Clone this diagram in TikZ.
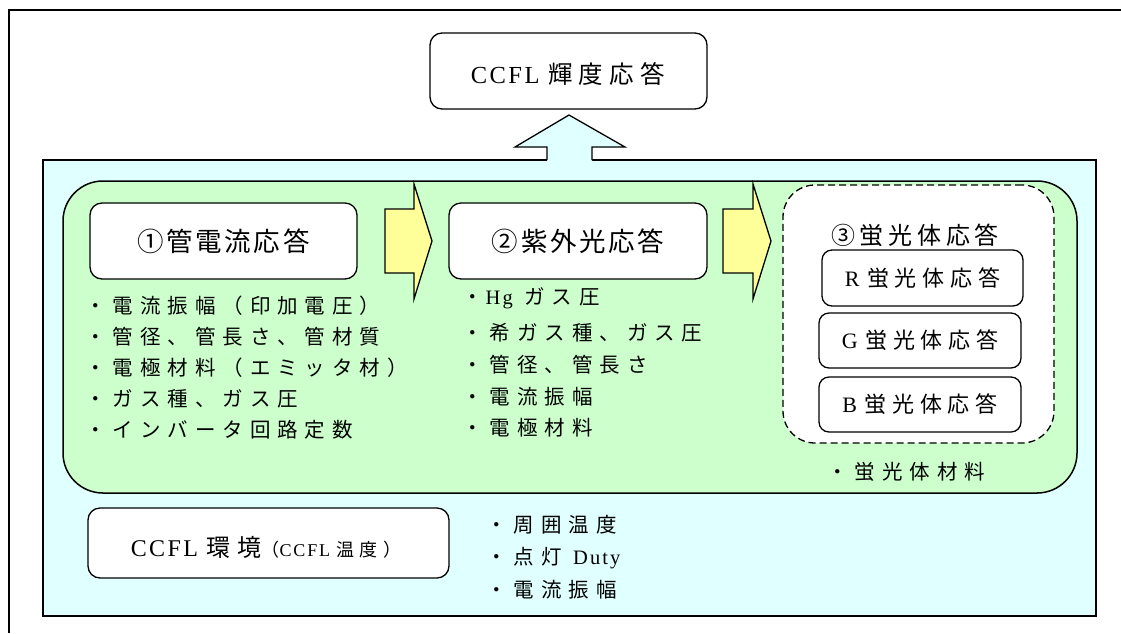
\documentclass[tikz,border=0pt]{standalone}
\usepackage{fontspec}
\setmainfont{Liberation Serif}
\newfontfamily\jpA[LetterSpace=34]{Noto Sans CJK JP}
\newfontfamily\jpB[LetterSpace=26]{Noto Sans CJK JP}
\newfontfamily\jpC[LetterSpace=10]{Noto Sans CJK JP}
\newfontfamily\jpD[LetterSpace=20]{Noto Sans CJK JP}
\newfontfamily\jpE[LetterSpace=30]{Noto Sans CJK JP}
\newfontfamily\lat[LetterSpace=10]{Liberation Serif}
\definecolor{cyanbg}{HTML}{E0FFFF}
\definecolor{greenbg}{HTML}{CCFFCC}
\definecolor{yellowar}{HTML}{FFFF99}
\tikzset{
  box/.style={draw, line width=1.3pt, rounded corners=12pt, fill=white, inner sep=0pt, align=center},
  bul/.style={anchor=west, inner sep=0pt, font=\fontsize{20.5}{24}\selectfont\jpA},
  blockarrow/.style={fill=yellowar, draw, line width=1.3pt, line join=miter},
}
\begin{document}
\begin{tikzpicture}[x=1pt,y=-1pt]
\useasboundingbox (0,0) rectangle (1121,633);
% outer frame (partially visible)
\draw[line width=1.8pt] (1121,10) -- (9,10) -- (9,633);
% cyan area
\draw[fill=cyanbg, line width=1.5pt] (43,160) rectangle (1096,616);
% up arrow
\fill[cyanbg] (547,162) -- (547,147) -- (515,147) -- (569,115) -- (625,147) -- (592,147) -- (592,162) -- cycle;
\draw[line width=1.3pt, line join=miter] (547,160) -- (547,147) -- (515,147) -- (569,115) -- (625,147) -- (592,147) -- (592,160);
% title
\node[box, minimum width=277pt, minimum height=76pt] (title) at (568.5,71) {};
\node[inner sep=0pt, font=\fontsize{24.5}{28}\selectfont] (titlet) at (568,74) {\lat CCFL\ \jpB 輝度応答};
% green area
\draw[fill=greenbg, line width=1.5pt, rounded corners=40pt] (63,181) rectangle (1077,493);
% step boxes
\node[box, minimum width=267pt, minimum height=76pt, font=\fontsize{26.5}{30}\selectfont\jpC] (s1) at (223.5,241) {①管電流応答};
\node[box, minimum width=258pt, minimum height=76pt, font=\fontsize{26.5}{30}\selectfont\jpC] (s2) at (578,241) {②紫外光応答};
% dashed phosphor group
\node[draw, dashed, dash pattern=on 7pt off 4pt, line width=1.3pt, fill=white, rounded corners=32pt,
  minimum width=271pt, minimum height=258pt, inner sep=0pt] (s3) at (918.5,314) {};
\node[inner sep=0pt, font=\fontsize{24}{28}\selectfont\jpD] (s3t) at (915,235) {③蛍光体応答};
\node[box, rounded corners=10pt, minimum width=201pt, minimum height=56pt, font=\fontsize{22}{26}\selectfont] (r) at (922.5,278) {\lat R\ \jpB 蛍光体応答};
\node[box, rounded corners=10pt, minimum width=202pt, minimum height=55pt, font=\fontsize{22}{26}\selectfont] (g) at (920,340.5) {\lat G\ \jpB 蛍光体応答};
\node[box, rounded corners=10pt, minimum width=202pt, minimum height=55pt, font=\fontsize{22}{26}\selectfont] (b) at (920,404.5) {\lat B\ \jpB 蛍光体応答};
% yellow block arrows
\draw[blockarrow] (385,209) -- (414,209) -- (414,184) -- (432,241) -- (414,299) -- (414,273) -- (385,273) -- cycle;
\draw[blockarrow] (723,209) -- (753,209) -- (753,184) -- (771,241) -- (753,299) -- (753,273) -- (723,273) -- cycle;
% bullets column 1
\node[bul] (a1) at (85,306) {・電流振幅（印加電圧）};
\node[bul] (a2) at (85,337) {・管径、管長さ、管材質};
\node[bul] (a3) at (85,368) {・電極材料（エミッタ材）};
\node[bul] (a4) at (85,399) {・ガス種、ガス圧};
\node[bul] (a5) at (85,430) {・インバータ回路定数};
% bullets column 2
\node[bul] (b1) at (462,298) {・\hspace{3pt}{\lat Hg} ガス圧};
\node[bul] (b2) at (462,333) {・希ガス種、ガス圧};
\node[bul] (b3) at (462,365) {・管径、管長さ};
\node[bul] (b4) at (462,397) {・電流振幅};
\node[bul] (b5) at (462,428) {・電極材料};
% phosphor material
\node[bul] (c1) at (827,472) {・蛍光体材料};
% environment box
\node[box, minimum width=361pt, minimum height=70pt] (env) at (268.5,543) {};
\node[inner sep=0pt, font=\fontsize{24}{28}\selectfont] (envt) at (266,547)
  {\lat CCFL\ \jpE 環境{\fontsize{18}{22}\selectfont（\lat CCFL\ \jpE 温度）}};
\node[bul] (d1) at (486,525) {・周囲温度};
\node[bul] (d2) at (486,558) {・点灯 {\lat Duty}};
\node[bul] (d3) at (486,590) {・電流振幅};
\end{tikzpicture}
\end{document}
